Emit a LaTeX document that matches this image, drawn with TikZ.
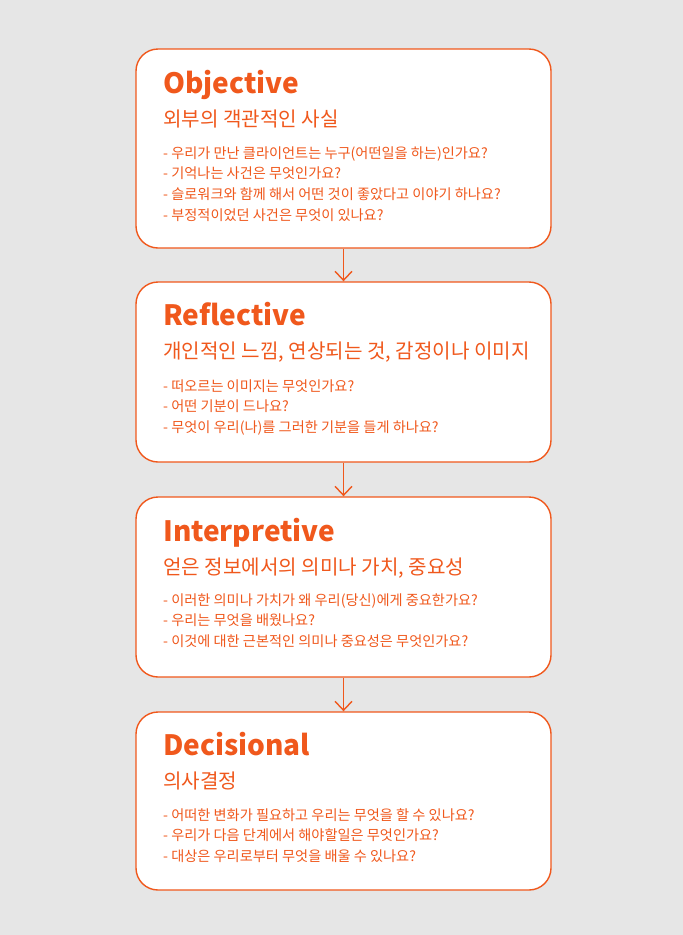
\documentclass[tikz,border=0pt]{standalone}
\usepackage{fontspec}
\setmainfont{Noto Sans CJK KR}
\usetikzlibrary{arrows.meta}

\definecolor{ormcorange}{RGB}{240,88,28}
\definecolor{ormcgray}{RGB}{230,230,230}

\tikzset{
	stagebox/.style={draw=ormcorange, line width=1.4pt, fill=white, rounded corners=22pt,
		minimum width=415pt, inner sep=0pt},
	stagetitle/.style={anchor=base west, inner sep=0pt, text=ormcorange,
		font=\fontsize{28}{34}\selectfont\bfseries},
	stagesub/.style={anchor=base west, inner sep=0pt, text=ormcorange,
		font=\fontsize{20.1}{24}\selectfont},
	qtext/.style={anchor=base west, inner sep=0pt, text=ormcorange,
		font=\fontsize{14.2}{17}\selectfont},
	flow/.style={color=ormcorange, line width=1.4pt, -{Straight Barb[length=9pt, width=17pt]}}
}

\begin{document}
\begin{tikzpicture}[x=1pt, y=-1pt]
			\fill[ormcgray] (0, 0) rectangle (683, 935);
			\useasboundingbox (0, 0) rectangle (683, 935);

			% the four stages
			\node[stagebox, minimum height=199pt] (obj) at (343.5, 148.5) {};
			\node[stagebox, minimum height=180pt] (ref) at (343.5, 372) {};
			\node[stagebox, minimum height=180pt] (int) at (343.5, 587) {};
			\node[stagebox, minimum height=178pt] (dec) at (343.5, 801) {};

			\draw[flow] (obj.south) -- (ref.north);
			\draw[flow] (ref.south) -- (int.north);
			\draw[flow] (int.south) -- (dec.north);

			% Objective
			\node[stagetitle] (objt) at (163, 93) {Objective};
			\node[stagesub] (objs) at (163, 126) {외부의 객관적인 사실};
			\foreach \t [count=\i] in {우리가 만난 클라이언트는 누구(어떤일을 하는)인가요?,
				기억나는 사건은 무엇인가요?,
				슬로워크와 함께 해서 어떤 것이 좋았다고 이야기 하나요?,
				부정적이었던 사건은 무엇이 있나요?}
				\node[qtext] (objq\i) at (163, {137.3 + 20.7*\i}) {- \t};

			% Reflective
			\node[stagetitle] (reft) at (163, 325) {Reflective};
			\node[stagesub] (refs) at (163, 358) {개인적인 느낌, 연상되는 것, 감정이나 이미지};
			\foreach \t [count=\i] in {떠오르는 이미지는 무엇인가요?,
				어떤 기분이 드나요?,
				무엇이 우리(나)를 그러한 기분을 들게 하나요?}
				\node[qtext] (refq\i) at (163, {370.3 + 20.7*\i}) {- \t};

			% Interpretive
			\node[stagetitle] (intt) at (163, 541) {Interpretive};
			\node[stagesub] (ints) at (163, 574) {얻은 정보에서의 의미나 가치, 중요성};
			\foreach \t [count=\i] in {이러한 의미나 가치가 왜 우리(당신)에게 중요한가요?,
				우리는 무엇을 배웠나요?,
				이것에 대한 근본적인 의미나 중요성은 무엇인가요?}
				\node[qtext] (intq\i) at (163, {584.3 + 20.7*\i}) {- \t};

			% Decisional
			\node[stagetitle] (dect) at (163, 755) {Decisional};
			\node[stagesub] (decs) at (163, 788) {의사결정};
			\foreach \t [count=\i] in {어떠한 변화가 필요하고 우리는 무엇을 할 수 있나요?,
				우리가 다음 단계에서 해야할일은 무엇인가요?,
				대상은 우리로부터 무엇을 배울 수 있나요?}
				\node[qtext] (decq\i) at (163, {799.3 + 20.7*\i}) {- \t};
\end{tikzpicture}
\end{document}
